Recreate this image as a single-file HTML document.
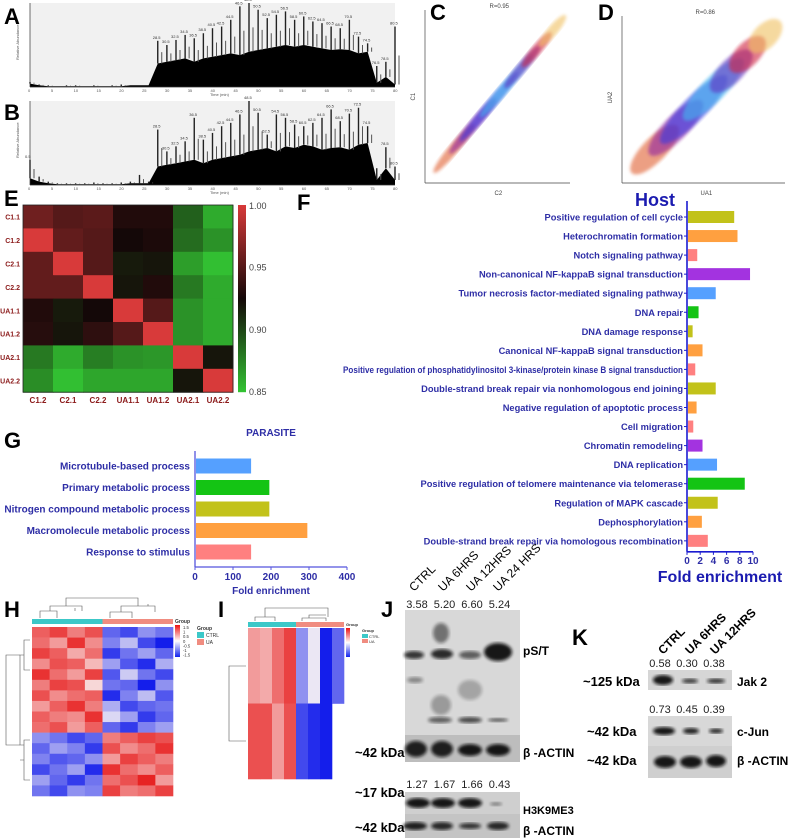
<!DOCTYPE html>
<html><head><meta charset="utf-8"><style>
html,body{margin:0;padding:0;background:#fff;}
svg{display:block;font-family:"Liberation Sans",Arial,sans-serif;}
.lbl{font-weight:bold;font-size:10px;fill:#2e2ea6;}
.hl{font-weight:bold;font-size:9.3px;fill:#2e2ea6;}
.pl{font-size:22px;font-weight:bold;fill:#000;}
</style></head><body>
<svg id="fig" width="789" height="840" viewBox="0 0 789 840" xmlns="http://www.w3.org/2000/svg">
<defs>
<filter id="blur1"><feGaussianBlur stdDeviation="1.6"/></filter>
<filter id="blur2"><feGaussianBlur stdDeviation="3"/></filter>
<linearGradient id="cbE" x1="0" y1="0" x2="0" y2="1"><stop offset="0" stop-color="#d83a3a"/><stop offset="0.5" stop-color="#140808"/><stop offset="1" stop-color="#33c433"/></linearGradient>
<linearGradient id="cbH" x1="0" y1="0" x2="0" y2="1"><stop offset="0" stop-color="#ee1111"/><stop offset="0.5" stop-color="#ffffff"/><stop offset="1" stop-color="#1122ee"/></linearGradient>
</defs>
<g id="layer"></g>
</svg>
<script>
// ---------- DATA ----------
const chromTime = [0,2,4,6,8,10,12,14,16,18,20,22,24,26,28,30,32,34,36,38,40,42,44,46,48,50,52,54,56,58,60,62,64,66,68,70,72,74,76,78,80];
const chromA_base = [4,2,1,1,1,1,1,1,1,1,1,2,2,2,28,30,32,34,30,34,36,38,40,38,42,44,46,48,50,48,50,48,46,44,45,44,40,42,5,12,3];
const chromA_peak = [6,3,2,1,2,2,1,2,1,2,3,2,2,2,55,50,56,62,58,64,70,72,80,96,100,92,82,86,90,80,84,78,76,72,70,80,60,52,25,30,72];
const chromB_base = [8,4,2,1,1,1,1,1,1,1,1,2,2,2,22,24,26,28,30,26,30,32,34,36,40,42,44,40,46,44,48,46,42,44,45,42,48,50,6,20,6];
const chromB_peak = [30,10,4,2,2,2,2,3,2,2,3,4,12,4,66,40,46,52,80,54,62,70,74,84,100,86,60,84,80,72,70,74,80,90,76,85,92,70,20,45,22];
const eRows = ["C1.1","C1.2","C2.1","C2.2","UA1.1","UA1.2","UA2.1","UA2.2"];
const eCols = ["C1.2","C2.1","C2.2","UA1.1","UA1.2","UA2.1","UA2.2"];
const eVals = [
 [0.960,0.950,0.952,0.930,0.930,0.890,0.860],
 [1.000,0.955,0.950,0.925,0.928,0.885,0.870],
 [0.955,1.000,0.950,0.918,0.920,0.865,0.852],
 [0.955,0.955,1.000,0.920,0.930,0.880,0.860],
 [0.930,0.918,0.925,1.000,0.950,0.870,0.860],
 [0.932,0.920,0.935,0.950,1.000,0.870,0.860],
 [0.880,0.860,0.878,0.870,0.868,1.000,0.920],
 [0.872,0.852,0.862,0.862,0.862,0.920,1.000]];
const eTicks = [1.00,0.95,0.90,0.85];
const hostTerms = ["Positive regulation of cell cycle","Heterochromatin formation","Notch signaling pathway","Non-canonical NF-kappaB signal transduction","Tumor necrosis factor-mediated signaling pathway","DNA repair","DNA damage response","Canonical NF-kappaB signal transduction","Positive regulation of phosphatidylinositol 3-kinase/protein kinase B signal transduction","Double-strand break repair via nonhomologous end joining","Negative regulation of apoptotic process","Cell migration","Chromatin remodeling","DNA replication","Positive regulation of telomere maintenance via telomerase","Regulation of MAPK cascade","Dephosphorylation","Double-strand break repair via homologous recombination"];
const hostVals = [7.0,7.5,1.4,9.4,4.2,1.6,0.7,2.2,1.1,4.2,1.3,0.8,2.2,4.4,8.6,4.5,2.1,3.0];
const hostColors = ["#c2c21a","#ffa040","#ff8080","#a333e0","#55a0ff","#14c414","#c2c21a","#ffa040","#ff8080","#c2c21a","#ffa040","#ff8080","#a333e0","#55a0ff","#14c414","#c2c21a","#ffa040","#ff8080"];
const hostTicks = [0,2,4,6,8,10];
const parTerms = ["Microtubule-based process","Primary metabolic process","Nitrogen compound metabolic process","Macromolecule metabolic process","Response to stimulus"];
const parVals = [145,193,193,293,145];
const parColors = ["#55a0ff","#14c414","#c2c21a","#ffa040","#ff8080"];
const parTicks = [0,100,200,300,400];
const hVals = [
 [1.0,1.2,0.8,1.1,-1.0,-1.2,-0.7,-0.9],
 [0.9,0.6,1.3,0.7,-0.8,-0.4,-1.2,-1.5],
 [1.2,1.0,0.5,0.9,-1.3,-0.9,-0.6,-1.0],
 [0.7,1.1,1.0,0.4,-0.6,-1.1,-1.4,-0.5],
 [1.3,0.9,0.6,1.2,-1.1,-0.3,-0.9,-1.2],
 [0.8,1.2,1.1,0.2,-0.9,-1.0,-1.5,-0.7],
 [1.1,0.7,0.9,1.0,-1.4,-0.8,-0.4,-1.1],
 [0.6,1.0,1.3,0.8,-0.5,-1.2,-1.0,-0.9],
 [1.0,0.8,0.7,1.3,-0.2,-0.6,-1.3,-1.0],
 [0.9,1.1,0.6,1.0,-1.0,-1.3,-0.8,-0.6],
 [-0.7,-0.9,-1.2,-1.0,0.8,1.0,1.2,1.1],
 [-1.0,-0.6,-0.8,-1.3,1.1,0.7,0.9,1.3],
 [-0.8,-1.1,-1.0,-0.7,0.6,1.2,1.0,0.8],
 [-1.2,-0.9,-0.6,-1.4,1.3,0.9,0.7,1.0],
 [-0.6,-1.0,-1.3,-0.9,0.9,1.1,1.4,0.6],
 [-0.9,-1.2,-0.7,-0.8,1.2,0.8,0.9,1.2]];
const hTicks = ["1.5","1","0.5","0","-0.5","-1","-1.5"];
const iVals = [
 [0.6,0.5,0.9,1.2,-0.7,-0.1,-1.5,-1.0],
 [1.1,1.1,0.6,1.1,-1.2,-1.4,-1.5,null]];
const jLanes = ["CTRL","UA 6HRS","UA 12HRS","UA 24 HRS"];
const pstVals = ["3.58","5.20","6.60","5.24"];
const h3Vals = ["1.27","1.67","1.66","0.43"];
const kLanes = ["CTRL","UA 6HRS","UA 12HRS"];
const jakVals = ["0.58","0.30","0.38"];
const junVals = ["0.73","0.45","0.39"];

// ---------- HELPERS ----------
const NS="http://www.w3.org/2000/svg";
const L=document.getElementById('layer');
function el(tag,attrs,parent){const e=document.createElementNS(NS,tag);for(const k in attrs)e.setAttribute(k,attrs[k]);(parent||L).appendChild(e);return e;}
function txt(x,y,s,attrs,parent){const t=el('text',Object.assign({x:x,y:y},attrs||{}),parent);t.textContent=s;return t;}
function grp(name){const g=el('g',{});return g;}
function lerp(a,b,t){return a+(b-a)*t;}
function mix(c1,c2,t){return 'rgb('+[0,1,2].map(i=>Math.round(lerp(c1[i],c2[i],t))).join(',')+')';}

// ---------- PANEL LETTERS ----------
const letters=[["A",4,24],["B",4,120],["C",430,20],["D",598,20],["E",4,206],["F",297,210],["G",4,448],["H",4,617],["I",218,617],["J",381,617],["K",572,645]];
const gl=grp('panel-letters');
letters.forEach(l=>{const t=txt(l[1],l[2],l[0],{class:'pl'},gl);});

// ---------- A / B chromatograms ----------
function chrom(name,y0,y1,base,peak){
  const g=grp(name);
  const x0=30,x1=395;
  el('rect',{x:x0,y:y0,width:x1-x0,height:y1-y0,fill:'#f1f1f1'},g);
  const sx=t=>x0+(x1-x0)*t/80, sy=v=>y1-(y1-y0)*v/100;
  let d='M'+x0+','+y1;
  chromTime.forEach((t,i)=>{d+=' L'+sx(t).toFixed(1)+','+sy(base[i]).toFixed(1);});
  d+=' L'+x1+','+y1+' Z';
  const p=el('path',{d:d,fill:'#000'},g);
  
  chromTime.forEach((t,i)=>{
    const l=el('line',{x1:sx(t),x2:sx(t),y1:sy(base[i]),y2:sy(peak[i]),stroke:'#222','stroke-width':1.4},g);
    
    if(peak[i]>20){txt(sx(t)-5,sy(peak[i])-2,String(t+0.5),{'font-size':4,fill:'#333'},g);}
    el('line',{x1:sx(t)+4,x2:sx(t)+4,y1:sy(base[i]),y2:sy((peak[i]+base[i])/2),stroke:'#555','stroke-width':1},g);
  });
  el('line',{x1:x0,x2:x1,y1:y1,y2:y1,stroke:'#333','stroke-width':0.7},g);
  el('line',{x1:x0,x2:x0,y1:y0,y2:y1,stroke:'#333','stroke-width':0.7},g);
  for(let t=0;t<=80;t+=5){txt(sx(t)-2,y1+5,String(t),{'font-size':4,fill:'#555'},g);}
  txt(210,y1+9,'Time (min)',{'font-size':4,fill:'#555'},g);
  txt(19,(y0+y1)/2+15,'Relative Abundance',{'font-size':4,fill:'#555',transform:'rotate(-90 19 '+((y0+y1)/2+15)+')'},g);
}
chrom('chromatogram-a',3,87,chromA_base,chromA_peak);
chrom('chromatogram-b',101,185,chromB_base,chromB_peak);

// ---------- C / D scatter ----------
function scatter(name,x0,y0,x1,y1,title,xl,yl,spread){
  const g=grp(name);
  el('line',{x1:x0,x2:x0,y1:y0,y2:y1,stroke:'#444','stroke-width':0.7},g);
  el('line',{x1:x0,x2:x1,y1:y1,y2:y1,stroke:'#444','stroke-width':0.7},g);
  txt((x0+x1)/2-8,y0-2,title,{'font-size':6,fill:'#444'},g);
  txt((x0+x1)/2-3,y1+12,xl,{'font-size':6,fill:'#444'},g);
  txt(x0-10,(y0+y1)/2+4,yl,{'font-size':6,fill:'#444',transform:'rotate(-90 '+(x0-10)+' '+((y0+y1)/2+4)+')'},g);
  const cx=(x0+x1)/2, cy=(y0+y1)/2;
  const ang=-Math.atan((y1-y0)/(x1-x0))*180/Math.PI;
  const len=Math.hypot(x1-x0,y1-y0);
  const bands=[[-0.30,'#e06030',0.14],[-0.17,'#9022a0',0.16],[-0.06,'#3838e0',0.2],[0.06,'#40b8f0',0.18],[0.17,'#6030c0',0.12],[0.27,'#d02040',0.1],[0.38,'#f0c060',0.09]];
  bands.forEach(b=>{
    const px=cx+b[0]*len*Math.cos(ang*Math.PI/180), py=cy+b[0]*len*Math.sin(ang*Math.PI/180);
    const e=el('ellipse',{cx:px,cy:py,rx:len*b[2],ry:spread,fill:b[1],opacity:0.6,transform:'rotate('+ang+' '+px+' '+py+')',filter:'url(#blur1)'},g);
    
  });
}
scatter('scatter-c',425,10,570,183,'R=0.95','C2','C1',5);
scatter('scatter-d',622,16,785,183,'R=0.86','UA1','UA2',12);

// ---------- E correlation heatmap ----------
(function(){
  const g=grp('correlation-heatmap');
  const x0=23,y0=205,cw=30,ch=23.4;
  const red=[216,58,58],blk=[20,8,8],grn=[51,196,51];
  function col(v){if(v>=0.925)return mix(blk,red,Math.min(1,(v-0.925)/0.075));return mix(grn,blk,Math.max(0,(v-0.85)/0.075));}
  eVals.forEach((row,r)=>row.forEach((v,c)=>{
    const rc=el('rect',{x:x0+c*cw,y:y0+r*ch,width:cw+0.5,height:ch+0.5,fill:col(v)},g);
    
  }));
  el('rect',{x:x0,y:y0,width:cw*7,height:ch*8,fill:'none',stroke:'#222','stroke-width':0.8},g);
  eRows.forEach((n,r)=>{const t=txt(x0-3,y0+r*ch+ch/2+3,n,{'font-size':7,'font-weight':'bold',fill:'#8b1a1a','text-anchor':'end'},g);});
  eCols.forEach((n,c)=>{const t=txt(x0+c*cw+cw/2,y0+ch*8+11,n,{'font-size':8,'font-weight':'bold',fill:'#8b1a1a','text-anchor':'middle'},g);});
  el('rect',{x:238,y:y0,width:8,height:ch*8,fill:'url(#cbE)'},g);
  eTicks.forEach(v=>{const y=y0+(1.0-v)/0.15*ch*8;txt(249,y+3+(v===1?1:0),v.toFixed(2),{'font-size':9,fill:'#444'},g);});
})();

// ---------- F Host bars ----------
(function(){
  const g=grp('host-go-chart');
  const ax=687, ppu=6.6, y0=217, step=19.05, bh=12;
  txt(655,206,'Host',{'font-size':18,'font-weight':'bold',fill:'#1b1bb0','text-anchor':'middle'},g);
  hostTerms.forEach((t,i)=>{
    const y=y0+i*step;
    const b=el('rect',{x:ax+1,y:y-bh/2,width:hostVals[i]*ppu,height:bh,fill:hostColors[i]},g);
    
    const at={class:'hl','text-anchor':'end'};
    if(t.length>80){at.textLength=340;at.lengthAdjust='spacingAndGlyphs';}
    const l=txt(ax-4,y+3.5,t,at,g);
    
    el('line',{x1:ax-3,x2:ax,y1:y,y2:y,stroke:'#1b1bd0','stroke-width':1},g);
  });
  const yb=y0+17*step+11;
  el('line',{x1:ax,x2:ax,y1:y0-16,y2:yb,stroke:'#1b1bd0','stroke-width':1.6},g);
  el('line',{x1:ax,x2:ax+10*ppu,y1:yb,y2:yb,stroke:'#1b1bd0','stroke-width':1.6},g);
  hostTicks.forEach(v=>{const x=ax+v*ppu;el('line',{x1:x,x2:x,y1:yb,y2:yb+3,stroke:'#1b1bd0'},g);txt(x,yb+12,String(v),{class:'lbl','text-anchor':'middle'},g);});
  const at=txt(720,yb+30,'Fold enrichment',{'font-size':16,'font-weight':'bold',fill:'#1b1bb0','text-anchor':'middle'},g);
  
})();

// ---------- G Parasite bars ----------
(function(){
  const g=grp('parasite-go-chart');
  const ax=195, ppu=(347-195)/400, y0=466, step=21.5, bh=15;
  txt(271,436,'PARASITE',{'font-size':10,'font-weight':'bold',fill:'#2e2ea6','text-anchor':'middle'},g);
  parTerms.forEach((t,i)=>{
    const y=y0+i*step;
    const b=el('rect',{x:ax+1,y:y-bh/2,width:parVals[i]*ppu,height:bh,fill:parColors[i]},g);
    
    const l=txt(ax-5,y+3.5,t,{class:'lbl','text-anchor':'end'},g);
    
  });
  const yb=567;
  el('line',{x1:ax,x2:ax,y1:451,y2:yb,stroke:'#5555dd','stroke-width':1.3},g);
  el('line',{x1:ax,x2:347,y1:yb,y2:yb,stroke:'#5555dd','stroke-width':1.3},g);
  parTicks.forEach(v=>{const x=ax+v*ppu;el('line',{x1:x,x2:x,y1:yb,y2:yb+3,stroke:'#5555dd'},g);txt(x,yb+13,String(v),{class:'lbl','text-anchor':'middle'},g);});
  const at=txt(271,594,'Fold enrichment',{class:'lbl','text-anchor':'middle'},g);
  
})();

function zc(v){const r=[230,20,20],w=[250,245,245],b=[20,30,235];const t=Math.max(-1,Math.min(1,v/1.5));return t>=0?mix(w,r,t):mix(w,b,-t);}

// ---------- H heatmap ----------
(function(){
  const g=grp('heatmap-h');
  const x0=32,x1=173,y0=627,y1=796;
  const cw=(x1-x0)/8, ch=(y1-y0)/hVals.length;
  el('rect',{x:x0,y:619,width:cw*4,height:5,fill:'#3cc8c8'},g);
  el('rect',{x:x0+cw*4,y:619,width:cw*4,height:5,fill:'#f08c80'},g);
  hVals.forEach((row,r)=>row.forEach((v,c)=>{const rc=el('rect',{x:x0+c*cw,y:y0+r*ch,width:cw+0.3,height:ch+0.3,fill:zc(v)},g);}));
  el('path',{d:'M40,618 v-7 h17 v7 M50,611 v-5 h32 v5 M75,611 v-3 M110,618 v-6 h22 v6 M121,612 v-6 h34 v6 M148,606 v-2 M66,606 v-8 h72 v8',fill:'none',stroke:'#555','stroke-width':0.6},g);
  el('path',{d:'M30,640 h-6 v30 h6 M24,655 h-4 v90 h4 M30,740 h-6 v40 h6 M24,760 h-4',fill:'none',stroke:'#555','stroke-width':0.6},g);
  el('path',{d:'M20,655 h-14 v90 h14',fill:'none',stroke:'#555','stroke-width':0.6},g);
  txt(175,623,'Group',{'font-size':5,'font-weight':'bold',fill:'#333'},g);
  el('rect',{x:175,y:625,width:5,height:32,fill:'url(#cbH)'},g);
  hTicks.forEach((s,i)=>txt(183,629+i*4.6,s,{'font-size':4.2,fill:'#333'},g));
  txt(197,630,'Group',{'font-size':5,'font-weight':'bold',fill:'#333'},g);
  el('rect',{x:197,y:632,width:7,height:6,fill:'#3cc8c8'},g);txt(206,637,'CTRL',{'font-size':5,fill:'#333'},g);
  el('rect',{x:197,y:639,width:7,height:6,fill:'#f08c80'},g);txt(206,644,'UA',{'font-size':5,fill:'#333'},g);
})();

// ---------- I heatmap ----------
(function(){
  const g=grp('heatmap-i');
  const x0=248,cw=12,y0=628,ch=75.5;
  el('rect',{x:x0,y:622,width:cw*4,height:5,fill:'#3cc8c8'},g);
  el('rect',{x:x0+cw*4,y:622,width:cw*4,height:5,fill:'#f08c80'},g);
  iVals.forEach((row,r)=>row.forEach((v,c)=>{if(v===null)return;const rc=el('rect',{x:x0+c*cw,y:y0+r*ch,width:cw+0.3,height:ch+0.3,fill:zc(v)},g);}));
  el('path',{d:'M255,621 v-4 h20 v4 M265,617 v-9 h63 v9 M302,621 v-3 h24 v3 M309,618 v-3 h17',fill:'none',stroke:'#555','stroke-width':0.6},g);
  el('path',{d:'M246,666 h-17 v75 h17',fill:'none',stroke:'#555','stroke-width':0.6},g);
  txt(346,626,'Group',{'font-size':4,'font-weight':'bold',fill:'#333'},g);
  el('rect',{x:346,y:628,width:4,height:29,fill:'url(#cbH)'},g);
  txt(362,632,'Group',{'font-size':4,'font-weight':'bold',fill:'#333'},g);
  el('rect',{x:362,y:634,width:6,height:4,fill:'#3cc8c8'},g);txt(369,638,'CTRL',{'font-size':4,fill:'#333'},g);
  el('rect',{x:362,y:639,width:6,height:4,fill:'#f08c80'},g);txt(369,643,'UA',{'font-size':4,fill:'#333'},g);
})();

// ---------- Western blots ----------
function blot(name,x,y,w,h,bg,bands){
  const g=grp(name);
  el('rect',{x:x,y:y,width:w,height:h,fill:bg},g);
  bands.forEach(b=>{const e=el('ellipse',{cx:b[0],cy:b[1],rx:b[2],ry:b[3],fill:'#111',opacity:b[4],filter:'url(#blur1)'},g);});
  return g;
}
(function(){
  const g=grp('blot-j-labels');
  const lx=[414,443,471,498];
  jLanes.forEach((s,i)=>{const t=txt(lx[i],592,s,{'font-size':12,fill:'#000',transform:'rotate(-45 '+lx[i]+' 592)'},g);});
  pstVals.forEach((s,i)=>txt(417+i*27.5,608,s,{'font-size':11,fill:'#222','text-anchor':'middle'},g));
  h3Vals.forEach((s,i)=>txt(417+i*27.5,788,s,{'font-size':11,fill:'#222','text-anchor':'middle'},g));
  txt(523,655,'pS/T',{'font-size':12,'font-weight':'bold'},g);
  txt(523,757,'β -ACTIN',{'font-size':12,'font-weight':'bold'},g);
  txt(523,814,'H3K9ME3',{'font-size':11,'font-weight':'bold'},g);
  txt(523,835,'β -ACTIN',{'font-size':12,'font-weight':'bold'},g);
  txt(355,757,'~42 kDa',{'font-size':13,'font-weight':'bold'},g);
  txt(355,797,'~17 kDa',{'font-size':13,'font-weight':'bold'},g);
  txt(355,832,'~42 kDa',{'font-size':13,'font-weight':'bold'},g);
})();
blot('blot-pst',405,610,115,125,'#d8d8d8',[[414,655,10,4,0.8],[442,654,11,5,0.85],[441,633,8,10,0.5],[470,655,11,4,0.6],[498,652,14,9,0.95],[440,720,12,3,0.6],[470,720,12,3,0.7],[498,720,10,2,0.6],[415,680,8,3,0.4],[470,690,12,10,0.25],[441,705,10,10,0.3]]);
blot('blot-actin-j1',405,735,115,27,'#bdbdbd',[[416,749,11,8,0.9],[442,749,11,8,0.9],[470,750,12,6,0.95],[498,750,12,6,0.95]]);
blot('blot-h3k9',405,792,115,22,'#cfcfcf',[[418,803,12,5,0.95],[443,803,12,5,0.95],[470,803,12,5,0.95],[496,804,6,2,0.4]]);
blot('blot-actin-j2',405,814,115,24,'#c4c4c4',[[415,826,12,4,0.9],[442,826,11,4,0.85],[470,826,11,3,0.8],[498,826,11,4,0.85]]);
(function(){
  const g=grp('blot-k-labels');
  const lx=[663,690,715];
  kLanes.forEach((s,i)=>{const t=txt(lx[i],655,s,{'font-size':12,'font-weight':'bold',fill:'#000',transform:'rotate(-45 '+lx[i]+' 655)'},g);});
  jakVals.forEach((s,i)=>txt(660+i*27,667,s,{'font-size':11,fill:'#222','text-anchor':'middle'},g));
  junVals.forEach((s,i)=>txt(660+i*27,713,s,{'font-size':11,fill:'#222','text-anchor':'middle'},g));
  txt(583,686,'~125 kDa',{'font-size':13,'font-weight':'bold'},g);
  txt(587,736,'~42 kDa',{'font-size':13,'font-weight':'bold'},g);
  txt(587,765,'~42 kDa',{'font-size':13,'font-weight':'bold'},g);
  txt(737,686,'Jak 2',{'font-size':12,'font-weight':'bold'},g);
  txt(737,736,'c-Jun',{'font-size':12,'font-weight':'bold'},g);
  txt(737,765,'β -ACTIN',{'font-size':12,'font-weight':'bold'},g);
})();
blot('blot-jak2',648,670,84,20,'#d6d6d6',[[663,680,10,5,0.95],[690,681,8,2.5,0.75],[716,681,9,2.5,0.8]]);
blot('blot-cjun',648,716,84,30,'#d8d8d8',[[664,731,11,4,0.95],[691,731,8,3,0.9],[716,731,7,2.5,0.85]]);
blot('blot-actin-k',648,746,84,32,'#cfcfcf',[[665,762,11,6,0.95],[691,762,11,6,0.95],[716,761,10,6,0.95]]);
</script>
</body></html>
